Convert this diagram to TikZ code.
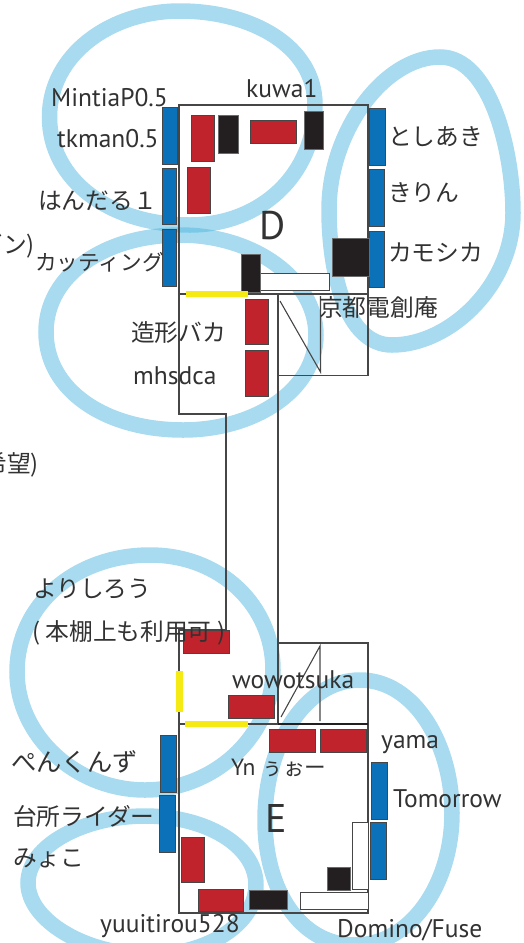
\documentclass[tikz,border=0pt]{standalone}
\usepackage{fontspec}
\setmainfont{PT Sans}
\newfontfamily\jpf{Noto Sans CJK JP}[Scale=0.92]
\definecolor{loopc}{RGB}{81,183,223}
\definecolor{bluec}{RGB}{11,114,186}
\definecolor{redc}{RGB}{193,35,44}
\definecolor{blackc}{RGB}{35,31,32}
\definecolor{yelc}{RGB}{245,234,20}
\definecolor{linec}{RGB}{70,70,70}
\definecolor{textc}{RGB}{50,50,50}
\tikzset{
 loopline/.style={draw=loopc,draw opacity=0.5,line width=15.5pt},
 wall/.style={draw=linec,line width=1.1pt},
 bluebox/.style={draw=linec,fill=bluec,line width=1pt},
 redbox/.style={draw=linec,fill=redc,line width=1pt},
 blackbox/.style={draw=linec!80,fill=blackc,line width=1pt},
 whitebox/.style={draw=linec,fill=white,line width=1pt},
 yelbox/.style={fill=yelc},
 lab/.style={text=textc,inner sep=0pt,anchor=base west,font=\fontsize{25.5}{25.5}\selectfont},
 jlab/.style={lab,font=\fontsize{25.8}{25.8}\selectfont\jpf},
 big/.style={lab,font=\fontsize{40}{40}\selectfont},
}
\begin{document}
\begin{tikzpicture}[x=1pt,y=-1pt]
\useasboundingbox (0,0) rectangle (524,943);
% activity loops
\draw[loopline] (49.5,117) .. controls (49.5,55) and (110,11) .. (180,11) .. controls (250,11) and (315,45) .. (315,105) .. controls (315,175) and (260,225) .. (190,225) .. controls (110,225) and (49.5,180) .. (49.5,117) -- cycle;
\draw[loopline] (329,210) .. controls (329,130) and (385,57) .. (440,57) .. controls (490,57) and (513,150) .. (513,213) .. controls (513,285) and (450,345) .. (392,345) .. controls (345,345) and (329,270) .. (329,210) -- cycle;
\draw[loopline] (46,332) .. controls (46,275) and (105,235) .. (180,235) .. controls (255,235) and (316,280) .. (316,335) .. controls (316,390) and (255,430) .. (183,430) .. controls (105,430) and (46,390) .. (46,332) -- cycle;
\draw[loopline] (17,672) .. controls (17,605) and (75,555) .. (150,555) .. controls (220,555) and (273,605) .. (273,670) .. controls (273,735) and (215,790) .. (145,790) .. controls (75,790) and (17,735) .. (17,672) -- cycle;
\draw[loopline] (28,883) .. controls (28,845) and (85,816) .. (145,816) .. controls (205,816) and (256,845) .. (256,885) .. controls (256,925) and (205,955) .. (150,955) .. controls (85,955) and (28,920) .. (28,883) -- cycle;
\draw[loopline] (265,820) .. controls (265,745) and (305,680) .. (360,680) .. controls (415,680) and (452,745) .. (452,813) .. controls (452,885) and (410,945) .. (355,945) .. controls (300,945) and (265,890) .. (265,820) -- cycle;
% walls
\draw[wall] (179,294) -- (179,105) -- (368,105) -- (368,294);
\draw[wall] (179,294) -- (368,294);
\draw[wall] (179,294) -- (179,414) -- (226,414) -- (226,630) -- (179,630) -- (179,913) -- (368,913) -- (368,643) -- (278,643);
\draw[wall] (278,294) -- (278,724);
\draw[wall] (278,375.5) -- (368,375.5) -- (368,294);
\draw[wall] (280,301) -- (320.5,372) -- (320.5,296);
\draw[wall] (281,717) -- (320,646) -- (320,721);
\draw[wall] (179,724) -- (368,724);
\draw[blackc,line width=1.3pt] (278,724) -- (368,724);
% furniture
\foreach \a/\b/\c/\d in {162.5/107/177.5/164, 162/168/176.5/224, 162/229/176.5/286, 369.5/108/385/165, 369.5/169/384/226, 369.5/231/384.5/287, 160.5/735/176/792, 159.5/795/175/852, 371.7/762/387/819, 370.5/822/386/879}
  \draw[bluebox] (\a,\b) rectangle (\c,\d);
\foreach \a/\b/\c/\d in {191/115/214/161, 187/167/210/213, 250/120/296/143, 245/299/268/344, 245/350/268/396, 183/630/229/653, 228/695/274/718, 269/729/315/752, 320/729/366/752, 181.7/837/204/882, 198/889/243/911}
  \draw[redbox] (\a,\b) rectangle (\c,\d);
\foreach \a/\b/\c/\d in {260/273/329/290, 352/822/368/889, 300/892/368/909}
  \draw[whitebox] (\a,\b) rectangle (\c,\d);
\foreach \a/\b/\c/\d in {218/115/238/153, 304/111/323/149, 332/238/369/276, 241/254/260/292, 249/890/287/909, 327/867/350/890}
  \draw[blackbox] (\a,\b) rectangle (\c,\d);
\foreach \a/\b/\c/\d in {186/291/248/297, 176/671/183/712, 185/721/248/727}
  \fill[yelbox] (\a,\b) rectangle (\c,\d);
% labels
\node[lab] (t1) at (51,106) {MintiaP0.5};
\node[lab] (t2) at (57,147) {tkman0.5};
\node[lab] (t3) at (246,97) {kuwa1};
\node[jlab] (t4) at (38,209) {はんだる１};
\node[jlab,anchor=base east] (t5) at (35,253) {ゴン)};
\node[jlab,font=\fontsize{23.5}{23.5}\selectfont\jpf] (t6) at (35,270) {カッティング};
\node[jlab] (t7) at (388,145) {としあき};
\node[jlab] (t8) at (388,201) {きりん};
\node[jlab] (t9) at (388,261) {カモシカ};
\node[jlab] (t10) at (319,316) {京都電創庵};
\node[big] (t11) at (259,239) {D};
\node[jlab] (t12) at (131,341) {造形バカ};
\node[lab] (t13) at (133,384) {mhsdca};
\node[jlab,anchor=base east] (t14) at (39,472) {希望)};
\node[jlab] (t15) at (33,597) {よりしろう};
\node[jlab] (t16) at (32,640) {( 本棚上も利用可 )};
\node[lab] (t17) at (232,688) {wowotsuka};
\node[lab] (t18) at (381,748) {yama};
\node[lab,font=\fontsize{23.5}{23.5}\selectfont] (t19) at (231,775) {Yn \jpf ぅぉー};
\node[jlab,font=\fontsize{27.5}{27.5}\selectfont\jpf] (t20) at (11,771) {ぺんくんず};
\node[jlab] (t21) at (13,825) {台所ライダー};
\node[jlab] (t22) at (13,866) {みょこ};
\node[lab] (t23) at (393,807) {Tomorrow};
\node[big] (t24) at (265,832) {E};
\node[lab] (t25) at (100,932) {yuuitirou528};
\node[lab] (t26) at (337,937) {Domino/Fuse};
\end{tikzpicture}
\end{document}
